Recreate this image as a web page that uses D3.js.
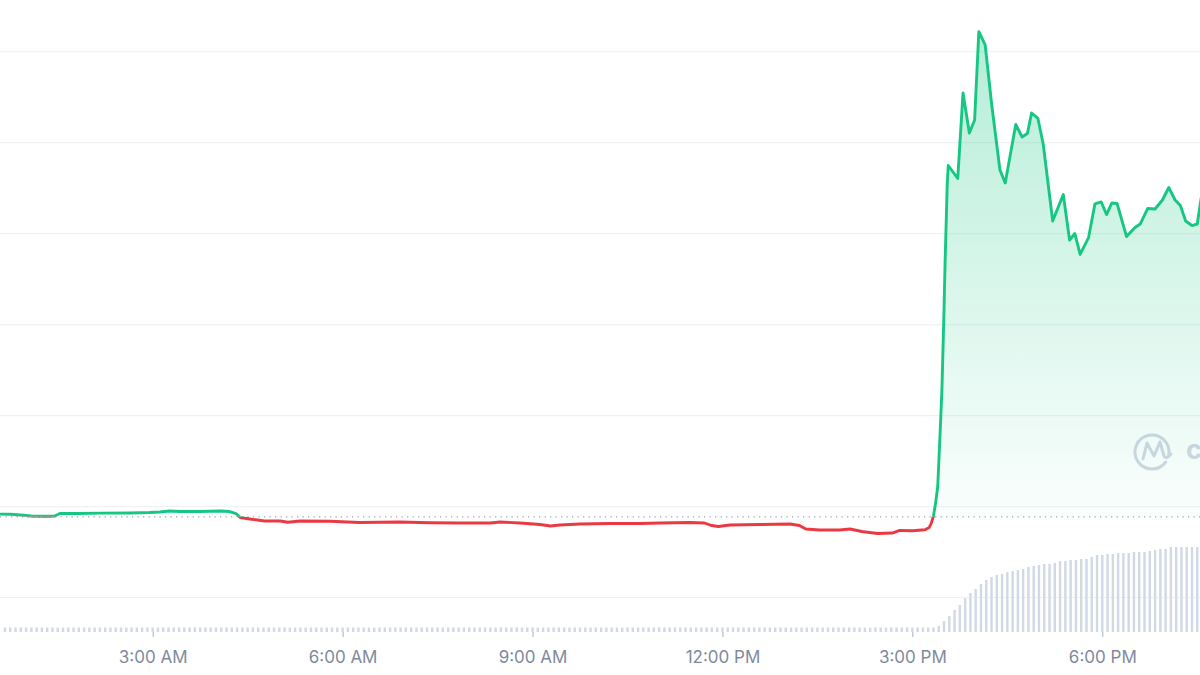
<!DOCTYPE html>
<html>
<head>
<meta charset="utf-8">
<script src="https://cdn.jsdelivr.net/npm/d3@7"></script>
<style>
  html, body { margin: 0; padding: 0; background: #fff; }
  svg { display: block; font-family: Inter, "Noto Sans", sans-serif; }
</style>
</head>
<body>
<svg id="svg"></svg>
<script>
// price samples (time of day, price)
const priceTimes = [
  "00:30","00:45","00:55","01:05","01:20","01:27","01:32","01:51","02:10","02:38",
  "02:57","03:07","03:16","03:26","03:45","04:04","04:13","04:19","04:23","04:32",
  "04:46","05:01","05:08","05:20","05:48","06:16","06:54","07:23","07:51","08:20",
  "08:29","08:48","09:07","09:17","09:26","09:45","10:13","10:42","11:01","11:29",
  "11:43","11:50","11:56","12:07","12:36","13:04","13:13","13:19","13:32","13:51",
  "14:01","14:12","14:27","14:41","14:48","15:00","15:12","15:16","15:18","15:20",
  "15:22","15:24","15:26","15:28","15:29","15:30","15:31","15:32","15:33","15:34",
  "15:43","15:48","15:54","15:59","16:03","16:09","16:15","16:23","16:28","16:38",
  "16:44","16:49","16:53","16:59","17:04","17:13","17:23","17:29","17:34","17:39",
  "17:47","17:53","17:59","18:04","18:09","18:14","18:23","18:31","18:36","18:43",
  "18:50","18:57","19:03","19:09","19:14","19:19","19:25","19:30","19:33","19:35"
];
const priceValues = [
  0.1918,0.1915,0.1907,0.1896,0.1893,0.1896,0.1923,0.1923,0.1927,0.1929,
  0.1934,0.1940,0.1951,0.1945,0.1945,0.1951,0.1945,0.1923,0.1879,0.1863,
  0.1841,0.1841,0.1827,0.1841,0.1838,0.1824,0.1830,0.1822,0.1819,0.1819,
  0.1830,0.1819,0.1802,0.1786,0.1797,0.1808,0.1813,0.1813,0.1819,0.1824,
  0.1819,0.1791,0.1781,0.1797,0.1802,0.1808,0.1791,0.1753,0.1742,0.1742,
  0.1753,0.1726,0.1704,0.1709,0.1737,0.1734,0.1745,0.1770,0.1819,0.1895,
  0.2039,0.2215,0.2731,0.3281,0.3721,0.4161,0.4688,0.5095,0.5535,0.5749,
  0.5606,0.6546,0.6106,0.6249,0.7220,0.7074,0.6436,0.5700,0.5557,0.6200,
  0.6062,0.6101,0.6326,0.6266,0.5985,0.5139,0.5430,0.4930,0.5001,0.4771,
  0.4957,0.5326,0.5348,0.5210,0.5337,0.5331,0.4968,0.5067,0.5106,0.5276,
  0.5271,0.5370,0.5507,0.5370,0.5309,0.5139,0.5089,0.5106,0.5337,0.5480
];
const openPrice = 0.1887;

// 5 minute volume bars, first one at 00:40 (one row per hour)
const volumeStart = "00:40";
const volumeValues = [
  4.5,4.5,4.5,4.5,
  4.5,4.5,4.5,4.5,4.5,4.5,4.5,4.5,4.5,4.5,4.5,4.5,
  4.5,4.5,4.5,4.5,4.5,4.5,4.5,4.5,4.5,4.5,4.5,4.5,
  4.5,4.5,4.5,4.5,4.5,4.5,4.5,4.5,4.5,4.5,4.5,4.5,
  4.5,4.5,4.5,4.5,4.5,4.5,4.5,4.5,4.5,4.5,4.5,4.5,
  4.5,4.5,4.5,4.5,4.5,4.5,4.5,4.5,4.5,4.5,4.5,4.5,
  4.5,4.5,4.5,4.5,4.5,4.5,4.5,4.5,4.5,4.5,4.5,4.5,
  4.5,4.5,4.5,4.5,4.5,4.5,4.5,4.5,4.5,4.5,4.5,4.5,
  4.5,4.5,4.5,4.5,4.5,4.5,4.5,4.5,4.5,4.5,4.5,4.5,
  4.5,4.5,4.5,4.5,4.5,4.5,4.5,4.5,4.5,4.5,4.5,4.5,
  4.5,4.5,4.5,4.5,4.5,4.5,4.5,4.5,4.5,4.5,4.5,4.5,
  4.5,4.5,4.5,4.5,4.5,4.5,4.5,4.5,4.5,4.5,4.5,4.5,
  4.5,4.5,4.5,4.5,4.5,4.5,4.5,4.5,4.5,4.5,4.5,4.5,
  4.5,4.5,4.5,4.5,4.5,4.5,4.5,4.5,4.5,4.5,4.5,4.5,
  4.5,4.5,4.5,4.5,4.5,4.5,4.5,4.5,4.5,4.5,4.5,4.5,
  4.5,4.5,4.5,4.5,4.5,6,11,16,22,27,34,39,
  43,48,52,55,57,58,60,61,62,63,65,66,
  67,68,68,69,71,71,72,72,73,73,75,77,
  77,78,78,79,79,79,80,80,80,81,82,83,
  83,85,85,85,85,85,85
];

const gridValues = [0.1, 0.2, 0.3, 0.4, 0.5, 0.6, 0.7];
const tickTimes = ["03:00", "06:00", "09:00", "12:00", "15:00", "18:00"];

const width = 1200;
const height = 675;
const green = "#16c784";
const red = "#ea3943";

let svg = d3.select("#svg").attr("width", width).attr("height", height);

const parseTime = d3.timeParse("%H:%M");
const parseFull = d3.timeParse("%H:%M:%S");

let priceData = priceTimes.map((t, i) => ({ t: parseTime(t), v: priceValues[i] }));
let t0 = parseTime(volumeStart);
let volumeData = volumeValues.map((v, i) => ({ t: d3.timeMinute.offset(t0, 5 * i), v: v }));

const x = d3.scaleTime()
    .domain([parseFull("00:35:18"), parseFull("19:32:36")])
    .range([0, width]);
const y = d3.scaleLinear().domain([0.1, 0.7]).range([597.5, 51.7]);
const yVol = d3.scaleLinear().domain([0, 100]).range([632, 532]);

const yBase = y(openPrice);

let defs = svg.append("defs");

defs.append("clipPath").attr("id", "above")
  .append("rect").attr("x", 0).attr("y", 0).attr("width", width).attr("height", yBase);
defs.append("clipPath").attr("id", "below")
  .append("rect").attr("x", 0).attr("y", yBase).attr("width", width).attr("height", height - yBase);

let gGreen = defs.append("linearGradient").attr("id", "fillGreen")
    .attr("gradientUnits", "userSpaceOnUse")
    .attr("x1", 0).attr("x2", 0).attr("y1", 30).attr("y2", yBase);
gGreen.append("stop").attr("offset", 0).attr("stop-color", green).attr("stop-opacity", 0.32);
gGreen.append("stop").attr("offset", 1).attr("stop-color", green).attr("stop-opacity", 0.02);

let gRed = defs.append("linearGradient").attr("id", "fillRed")
    .attr("gradientUnits", "userSpaceOnUse")
    .attr("x1", 0).attr("x2", 0).attr("y1", yBase).attr("y2", 560);
gRed.append("stop").attr("offset", 0).attr("stop-color", red).attr("stop-opacity", 0.0);
gRed.append("stop").attr("offset", 1).attr("stop-color", red).attr("stop-opacity", 0.05);

// horizontal grid
svg.append("g")
  .selectAll("line")
  .data(gridValues)
  .join("line")
    .attr("x1", 0)
    .attr("x2", width)
    .attr("y1", d => y(d))
    .attr("y2", d => y(d))
    .attr("stroke", "#eff2f5")
    .attr("stroke-width", 1.2);

// faint watermark
let wm = svg.append("g").attr("fill", "none").attr("stroke", "#d2d7e5").attr("stroke-width", 3)
    .attr("stroke-linecap", "round").attr("stroke-linejoin", "round");
wm.append("path").attr("d", d3.arc()({ innerRadius: 17, outerRadius: 17, startAngle: 2.2, endAngle: 2 * Math.PI + 1.75 }))
  .attr("transform", "translate(1152,452)");
wm.append("path").attr("d", "M1143,459 L1147,443 L1154,456 L1160,442 L1164,456 Q1166,460 1171,454");
svg.append("text")
    .attr("x", 1186)
    .attr("y", 459)
    .attr("font-size", 27)
    .attr("font-weight", 700)
    .attr("fill", "#d2d7e5")
    .text("coinmarketcap");

// volume bars
svg.append("g")
  .selectAll("rect")
  .data(volumeData)
  .join("rect")
    .attr("x", d => x(d.t) - 1.2)
    .attr("y", d => yVol(d.v))
    .attr("width", 2.4)
    .attr("height", d => yVol(0) - yVol(d.v))
    .attr("fill", "#d1d8e6");

let area = d3.area().x(d => x(d.t)).y0(yBase).y1(d => y(d.v));
let line = d3.line().x(d => x(d.t)).y(d => y(d.v));

svg.append("path").datum(priceData)
    .attr("d", area).attr("fill", "url(#fillGreen)").attr("clip-path", "url(#above)");
svg.append("path").datum(priceData)
    .attr("d", area).attr("fill", "url(#fillRed)").attr("clip-path", "url(#below)");

// open price reference
svg.append("line")
    .attr("x1", 0).attr("x2", width)
    .attr("y1", yBase).attr("y2", yBase)
    .attr("stroke", "#9ea7ba")
    .attr("stroke-width", 1.3)
    .attr("stroke-dasharray", "1.3,4.2");

svg.append("path").datum(priceData)
    .attr("d", line).attr("fill", "none").attr("stroke", green)
    .attr("stroke-width", 2.9).attr("stroke-linejoin", "round")
    .attr("clip-path", "url(#above)");
svg.append("path").datum(priceData)
    .attr("d", line).attr("fill", "none").attr("stroke", red)
    .attr("stroke-width", 2.9).attr("stroke-linejoin", "round")
    .attr("clip-path", "url(#below)");

// time axis
let xAxis = d3.axisBottom(x)
    .tickValues(tickTimes.map(parseTime))
    .tickFormat(d3.timeFormat("%-I:%M %p"))
    .tickSize(5);

svg.append("g")
    .attr("transform", "translate(0,632)")
    .call(xAxis)
    .call(g => g.select(".domain").remove())
    .call(g => g.selectAll(".tick line").attr("stroke", "#a6b0c3"))
    .call(g => g.selectAll(".tick text")
        .attr("y", 31)
        .attr("dy", null)
        .attr("fill", "#808a9d")
        .attr("font-size", 17)
        .attr("font-family", "Inter, sans-serif"));
</script>
</body>
</html>
